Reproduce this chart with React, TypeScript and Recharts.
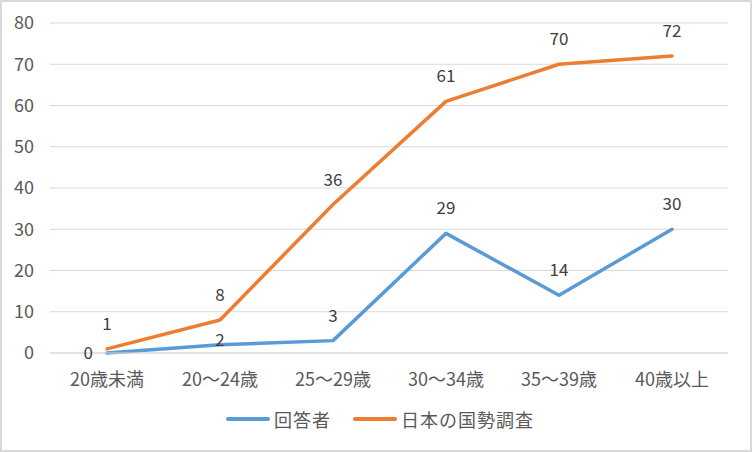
import { LineChart, Line, XAxis, YAxis, CartesianGrid, Legend, LabelList } from "recharts";

const categories = ["20歳未満", "20～24歳", "25～29歳", "30～34歳", "35～39歳", "40歳以上"];
const respondents = [0, 2, 3, 29, 14, 30];
const census = [1, 8, 36, 61, 70, 72];
const yTicks = [0, 10, 20, 30, 40, 50, 60, 70, 80];

const seriesNames = { respondents: "回答者", census: "日本の国勢調査" };

const data = categories.map((c, i) => ({
  category: c,
  respondents: respondents[i],
  census: census[i],
}));

const FONT = "'Noto Sans CJK JP', 'Noto Sans', sans-serif";
const BLUE = "#5B9BD5";
const ORANGE = "#ED7D31";

// where each blue label sits relative to its point
const blueLabelPlacement = ["left", "on", "top", "top", "top", "top"];

const makeLabel = (placement?: string[]) => (props: any) => {
  const { x, y, value, index } = props;
  const p = placement ? placement[index] : "top";
  let tx = x;
  let ty = y - 19;
  let anchor: "middle" | "end" = "middle";
  if (p === "left") {
    tx = x - 14;
    ty = y + 6;
    anchor = "end";
  } else if (p === "on") {
    ty = y + 1;
  }
  return (
    <text x={tx} y={ty} textAnchor={anchor} fill="#404040" fontSize={17} fontFamily={FONT}>
      {value}
    </text>
  );
};

const renderLegend = () => (
  <div style={{ display: "flex", justifyContent: "center", alignItems: "center", height: 24, fontFamily: FONT, fontSize: 18, color: "#595959", paddingLeft: 32 }}>
    {[
      { name: seriesNames.respondents, color: BLUE },
      { name: seriesNames.census, color: ORANGE },
    ].map((s, i) => (
      <div key={i} style={{ display: "flex", alignItems: "center", marginRight: i === 0 ? 22 : 0 }}>
        <svg width={44} height={8} style={{ marginRight: 4 }}>
          <line x1={2} y1={4} x2={42} y2={4} stroke={s.color} strokeWidth={4} strokeLinecap="round" />
        </svg>
        <span style={{ letterSpacing: 1 }}>{s.name}</span>
      </div>
    ))}
  </div>
);

const App = () => {
  return (
    <div style={{ position: "absolute", left: 0, top: 0, width: 752, height: 452, background: "#fff" }}>
      <div style={{ position: "absolute", inset: 0, border: "2px solid #d9d9d9", boxSizing: "border-box", pointerEvents: "none", zIndex: 2 }} />
      <LineChart width={752} height={452} data={data} margin={{ top: 23, right: 24, bottom: 21, left: 0 }}>
        <CartesianGrid vertical={false} stroke="#d9d9d9" strokeWidth={1} />
        <XAxis
          dataKey="category"
          height={54}
          padding={{ left: 57, right: 56 }}
          tickLine={false}
          axisLine={{ stroke: "#d9d9d9" }}
          tickMargin={14}
          tick={{ fontSize: 18, fill: "#595959", fontFamily: FONT }}
        />
        <YAxis
          width={50}
          domain={[0, 80]}
          ticks={yTicks}
          axisLine={false}
          tickLine={false}
          tickMargin={10}
          tick={{ fontSize: 18, fill: "#595959", fontFamily: FONT }}
        />
        <Legend verticalAlign="bottom" content={renderLegend} />
        <Line
          type="linear"
          dataKey="respondents"
          name={seriesNames.respondents}
          stroke={BLUE}
          strokeWidth={3.5}
          strokeLinejoin="round"
          strokeLinecap="round"
          dot={false}
          isAnimationActive={false}
        >
          <LabelList dataKey="respondents" content={makeLabel(blueLabelPlacement)} />
        </Line>
        <Line
          type="linear"
          dataKey="census"
          name={seriesNames.census}
          stroke={ORANGE}
          strokeWidth={3.5}
          strokeLinejoin="round"
          strokeLinecap="round"
          dot={false}
          isAnimationActive={false}
        >
          <LabelList dataKey="census" content={makeLabel()} />
        </Line>
      </LineChart>
    </div>
  );
};

export default App;
